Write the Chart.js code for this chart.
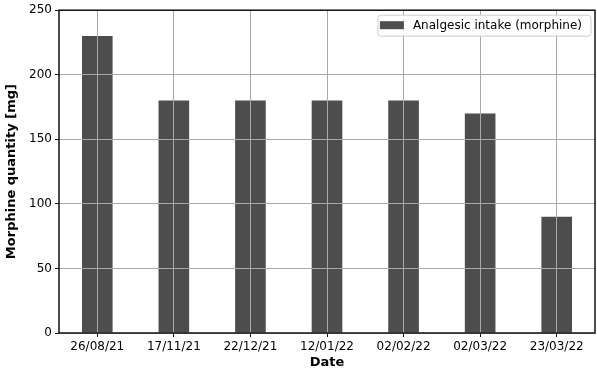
<!DOCTYPE html>
<html lang="en">
<head>
  <meta charset="UTF-8">
  <title>Morphine intake</title>
  <script src="https://cdn.jsdelivr.net/npm/chart.js"></script>
  <style>
    body { margin: 0; background: white; }
    #wrap { width: 597px; height: 374px; }
  </style>
</head>
<body>
  <div id="wrap"><canvas id="grafico" width="597" height="374"></canvas></div>
  <script>
    const fechas = ['26/08/21', '17/11/21', '22/12/21', '12/01/22', '02/02/22', '02/03/22', '23/03/22'];
    const morfina = [230, 180, 180, 180, 180, 170, 90];
    const ticksY = [0, 50, 100, 150, 200, 250];

    const fuente = 'DejaVu Sans';

    // marco y leyenda dentro del area, como en matplotlib
    const marcoYLeyenda = {
      id: 'marcoYLeyenda',
      afterDraw(chart) {
        const ctx = chart.ctx;
        const a = chart.chartArea;
        ctx.save();
        ctx.strokeStyle = '#111';
        ctx.lineWidth = 1.5;
        ctx.strokeRect(a.left, a.top, a.right - a.left, a.bottom - a.top);

        const ds = chart.data.datasets[0];
        ctx.font = '12px "' + fuente + '"';
        const w = ctx.measureText(ds.label).width + 44;
        const h = 21;
        const x = a.right - w - 4;
        const y = a.top + 5;
        ctx.fillStyle = 'rgba(255,255,255,0.85)';
        ctx.strokeStyle = '#ccc';
        ctx.lineWidth = 1;
        ctx.beginPath();
        ctx.roundRect(x, y, w, h, 3);
        ctx.fill();
        ctx.stroke();
        ctx.fillStyle = ds.backgroundColor;
        ctx.fillRect(x + 2, y + 6, 24, 8);
        ctx.fillStyle = '#000';
        ctx.textBaseline = 'middle';
        ctx.fillText(ds.label, x + 35, y + h / 2 + 0.5);
        ctx.restore();
      }
    };

    new Chart(document.getElementById('grafico'), {
      type: 'bar',
      data: {
        labels: fechas,
        datasets: [{
          label: 'Analgesic intake (morphine)',
          data: morfina,
          backgroundColor: '#4d4d4d',
          categoryPercentage: 1,
          barPercentage: 0.4
        }]
      },
      options: {
        responsive: false,
        animation: false,
        layout: { padding: { top: 7, right: 2 } },
        plugins: {
          legend: { display: false },
          tooltip: { enabled: false }
        },
        scales: {
          x: {
            grid: { z: 1, color: '#a8a8a8', lineWidth: 1, tickLength: 4, tickColor: '#111', offset: false },
            border: { display: false },
            ticks: { color: '#000', font: { family: fuente, size: 12 }, maxRotation: 0, padding: 3 },
            title: { display: true, text: 'Date', color: '#000', font: { family: fuente, size: 13, weight: 'bold' }, padding: { top: 6 } },
            afterFit(s) { s.height = 41; }
          },
          y: {
            min: 0,
            max: 250,
            afterBuildTicks(s) { s.ticks = ticksY.map(v => ({ value: v })); },
            grid: { z: 1, color: '#a8a8a8', lineWidth: 1, tickLength: 4, tickColor: '#111' },
            border: { display: false },
            ticks: { color: '#000', font: { family: fuente, size: 12 }, padding: 3 },
            title: { display: true, text: 'Morphine quantity [mg]', color: '#000', font: { family: fuente, size: 13, weight: 'bold' }, padding: { bottom: 2 } },
            afterFit(s) { s.width = 59; }
          }
        }
      },
      plugins: [marcoYLeyenda]
    });
  </script>
</body>
</html>
